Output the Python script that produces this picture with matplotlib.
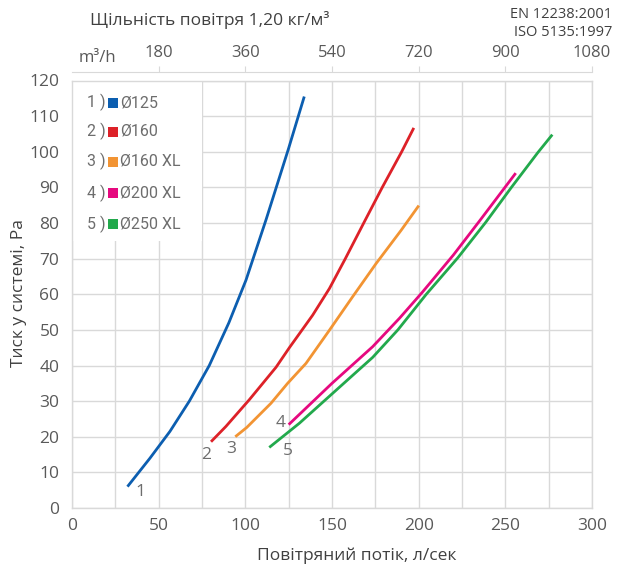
import matplotlib
matplotlib.use("Agg")
import matplotlib.pyplot as plt
from matplotlib.patches import Rectangle

plt.rcParams['font.family'] = ['Open Sans', 'DejaVu Sans']

# ---------------- data ----------------
labels = ["Ø125", "Ø160", "Ø160 XL", "Ø200 XL", "Ø250 XL"]
colors = ["#0c5eb0", "#dd2128", "#f29433", "#e6097f", "#22a94c"]

x1 = [32, 45, 56.5, 67.7, 79.2, 90.5, 100.4, 112, 125, 134]
y1 = [6, 14, 21.5, 30, 40, 52, 64, 81, 101, 115.5]

x2 = [80.2, 88.8, 102.3, 117.7, 125.4, 138.8, 148.5, 157.7, 168.3, 179, 190.2, 197.2]
y2 = [18.6, 22.9, 30.4, 39.5, 45.0, 54.1, 61.6, 70, 80, 90, 100, 106.7]

x3 = [94.2, 100.8, 114.8, 124.4, 135, 148.5, 161.9, 175.4, 189.8, 200.1]
y3 = [20, 22.6, 29.4, 35, 40.6, 49.9, 59.3, 68.6, 77.9, 84.9]

x4 = [125, 150, 173.5, 189, 202, 220, 235, 249, 256]
y4 = [23.4, 35, 45.3, 53.3, 60.5, 71, 80.5, 89.5, 94]

x5 = [113.8, 131.2, 150.4, 173.5, 188, 204.4, 222.7, 238.7, 253.5, 268.8, 277.1]
y5 = [17, 23.8, 32.2, 42.3, 50, 60, 70.3, 80.2, 90, 99.8, 104.8]

curve_x = [x1, x2, x3, x4, x5]
curve_y = [y1, y2, y3, y4, y5]

num_labels = ["1", "2", "3", "4", "5"]
num_x = [39.2, 77.2, 91.6, 120.5, 124.5]
num_y = [4.5, 14.8, 16.5, 23.8, 15.9]

x_ticks = [0, 50, 100, 150, 200, 250, 300]
y_ticks = list(range(0, 121, 10))
top_ticks = [180, 360, 540, 720, 900, 1080]

# ---------------- figure ----------------
W, H = 620, 570
fig = plt.figure(figsize=(W / 100, H / 100), dpi=100)
L, R, T, B = 72, 592, 80.5, 508
ax = fig.add_axes([L / W, 1 - B / H, (R - L) / W, (B - T) / H])

grid_c = "#d9d9d9"
text_c = "#595959"

ax.set_xlim(0, 300)
ax.set_ylim(0, 120)
ax.set_xticks(x_ticks)
ax.set_yticks(y_ticks)
ax.set_xticks(range(25, 300, 25), minor=True)
ax.grid(True, which="both", color=grid_c, linewidth=1.0, zorder=0)
ax.tick_params(which="both", length=0, labelsize=12.5, labelcolor=text_c)
ax.tick_params(axis="x", pad=7)
ax.tick_params(axis="y", pad=9)
for s in ax.spines.values():
    s.set_color(grid_c)
    s.set_linewidth(1.0)
ax.set_axisbelow(True)

# white legend area covering grid
ax.add_patch(Rectangle((0, 75), 75, 45, facecolor="white", edgecolor="none", zorder=1))

for xs, ys, c in zip(curve_x, curve_y, colors):
    ax.plot(xs, ys, color=c, linewidth=2.0, zorder=3, solid_capstyle="butt")

for t, xx, yy in zip(num_labels, num_x, num_y):
    ax.text(xx, yy, t, color="#6d6d6d", fontsize=12.5, ha="center", va="center", zorder=4)

# legend
rows = [102.5, 131.5, 161.5, 193, 224]
for i, (lab, c, py) in enumerate(zip(labels, colors, rows)):
    ay = (B - py) / (B - T)
    ax.text((106 - L) / (R - L), ay, f"{i + 1} )", transform=ax.transAxes,
            ha="right", va="center", fontsize=11.5, color="#6d6d6d", zorder=5,
            family="Roboto")
    ax.add_patch(Rectangle(((108 - L) / (R - L), ay - 5 / (B - T)), 10 / (R - L), 10 / (B - T),
                           transform=ax.transAxes, facecolor=c, edgecolor="none", zorder=5))
    ax.text((120 - L) / (R - L), ay, lab, transform=ax.transAxes,
            ha="left", va="center", fontsize=11.5, color="#6d6d6d", zorder=5,
            family="Roboto")

# top secondary axis (m3/h)
sec = ax.secondary_xaxis(1 + 8 / (B - T), functions=(lambda v: v * 3.6, lambda v: v / 3.6))
sec.set_xticks(top_ticks)
sec.tick_params(direction="out", length=4, color=grid_c, labelsize=12, labelcolor=text_c, pad=4)
for s in sec.spines.values():
    s.set_color(grid_c)
fig.text(97 / W, 1 - 58 / H, "m³/h", ha="center", va="center", fontsize=12, color=text_c)

# titles and labels
fig.text(90 / W, 1 - 20 / H, "Щільність повітря 1,20 кг/м³", ha="left", va="center",
         fontsize=12.5, color="#404040")
fig.text(612 / W, 1 - 14 / H, "EN 12238:2001", ha="right", va="center", fontsize=10.5, color="#404040")
fig.text(612 / W, 1 - 32 / H, "ISO 5135:1997", ha="right", va="center", fontsize=10.5, color="#404040")
fig.text(357 / W, 1 - 556 / H, "Повітряний потік, л/сек", ha="center", va="center",
         fontsize=12.5, color="#404040")
fig.text(19 / W, 1 - 293 / H, "Тиск у системі, Pa", ha="center", va="center", rotation=90,
         fontsize=12.5, color="#404040")

fig.savefig("out.png", dpi=100)
